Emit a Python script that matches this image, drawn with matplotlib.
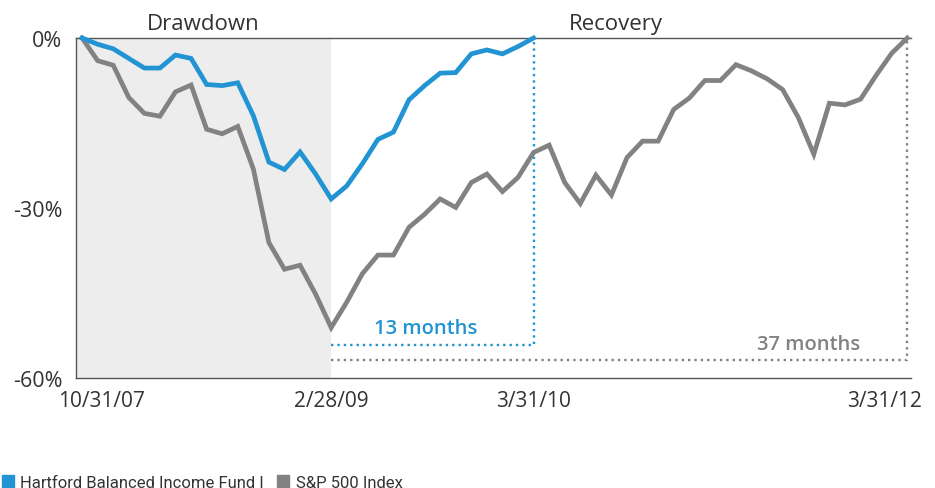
import numpy as np
import matplotlib
matplotlib.use("Agg")
import matplotlib.pyplot as plt
from matplotlib.patches import Patch
from matplotlib.transforms import ScaledTranslation

# 数据：每月末相对峰值的回撤（%），10/31/07 起
fund = [0, -1.1, -1.9, -3.6, -5.3, -5.3, -3.0, -3.6, -8.2, -8.4, -7.9,
        -13.7, -21.9, -23.2, -20.1, -24.0, -28.4,
        -26.1, -22.2, -17.9, -16.6, -10.9, -8.4, -6.2, -6.1, -2.8, -2.1,
        -2.8, -1.5, 0]
sp500 = [0, -4.0, -4.8, -10.5, -13.3, -13.8, -9.5, -8.3, -16.1, -16.9, -15.6,
         -23.1, -36.1, -40.8, -40.1, -45.2, -51.1,
         -46.6, -41.6, -38.3, -38.3, -33.4, -31.1, -28.4, -29.9, -25.5, -24.0,
         -27.1, -24.6, -20.2, -18.9, -25.5, -29.2, -24.2, -27.7,
         -21.1, -18.2, -18.2, -12.6, -10.6, -7.5, -7.5, -4.7, -5.8, -7.2,
         -9.1, -14.0, -20.5, -11.5, -11.8, -10.8, -6.6, -2.7, 0]
tick_pos = [0, 16, 29, 53]
tick_labels = ["10/31/07", "2/28/09", "3/31/10", "3/31/12"]
trough = 16
fund_rec, sp_rec = 29, 53
fund_months, sp_months = "13 months", "37 months"
yticks = [0, -30, -60]
ytick_labels = ["0%", "-30%", "-60%"]

BLUE = "#2394d3"
GRAY = "#828285"
TXT = "#333333"
FONT = ["Open Sans", "DejaVu Sans"]
NARROW = ["Roboto", "DejaVu Sans"]

fig = plt.figure(figsize=(9.35, 4.89), dpi=100)
ax = fig.add_axes([0.0813, 0.2249, 0.893, 0.6953])

x0, x1 = -0.39, 53.24
ax.set_xlim(x0, x1)
ax.set_ylim(-60, 0)

# 回撤阴影区
ax.axvspan(x0, trough, color="#ededed", lw=0, zorder=0)

ax.plot(range(len(sp500)), sp500, color=GRAY, lw=3.4, solid_joinstyle="miter",
        clip_on=False, zorder=3)
ax.plot(range(len(fund)), fund, color=BLUE, lw=3.4, solid_joinstyle="miter",
        clip_on=False, zorder=4)

# 恢复时间的虚线
dots = (0, (1, 1.7))
ax.plot([trough, fund_rec, fund_rec], [-54.1, -54.1, 0], color=BLUE, lw=1.7,
        ls=dots, zorder=2)
ax.plot([trough, sp_rec, sp_rec], [-56.9, -56.9, 0], color=GRAY, lw=1.7,
        ls=dots, zorder=2, clip_on=False)

ax.text(22.1, -51.2, fund_months, color=BLUE, fontsize=14.5, fontweight="semibold",
        family=FONT, ha="center", va="center")
ax.text(49.97, -54.0, sp_months, color=GRAY, fontsize=14.5, fontweight="semibold",
        family=FONT, ha="right", va="center")

ax.text((x0 + trough) / 2, 1.6, "Drawdown", fontsize=16, color=TXT, family=FONT,
        ha="center", va="baseline")
ax.text(34.3, 1.6, "Recovery", fontsize=16, color=TXT, family=FONT,
        ha="center", va="baseline")

ax.spines["right"].set_visible(False)
for s in ["left", "bottom", "top"]:
    ax.spines[s].set_color("#555555")
    ax.spines[s].set_linewidth(1.0)

ax.set_yticks(yticks)
ax.set_yticklabels(ytick_labels, fontsize=15.5, color=TXT, family=FONT)
ax.set_xticks(tick_pos)
ax.set_xticklabels(tick_labels, fontsize=15, color=TXT, family=FONT)
ax.tick_params(axis="y", length=0, pad=10)
ax.tick_params(axis="x", length=0, pad=8.5)

# 首尾两个日期标签往里挪
labs = ax.get_xticklabels()
for lab, dx in [(labs[0], 19), (labs[-1], -23)]:
    lab.set_transform(lab.get_transform() + ScaledTranslation(dx / 100, 0, fig.dpi_scale_trans))

handles = [Patch(color=BLUE, label="Hartford Balanced Income Fund I"),
           Patch(color=GRAY, label="S&P 500 Index")]
fig.legend(handles=handles, loc="lower left", bbox_to_anchor=(-0.014, -0.034),
           ncol=2, frameon=False, handlelength=0.7, handleheight=0.7,
           handletextpad=0.4, columnspacing=0.8,
           prop={"family": NARROW, "size": 12}, labelcolor=TXT)

fig.savefig("out.png", dpi=100)
